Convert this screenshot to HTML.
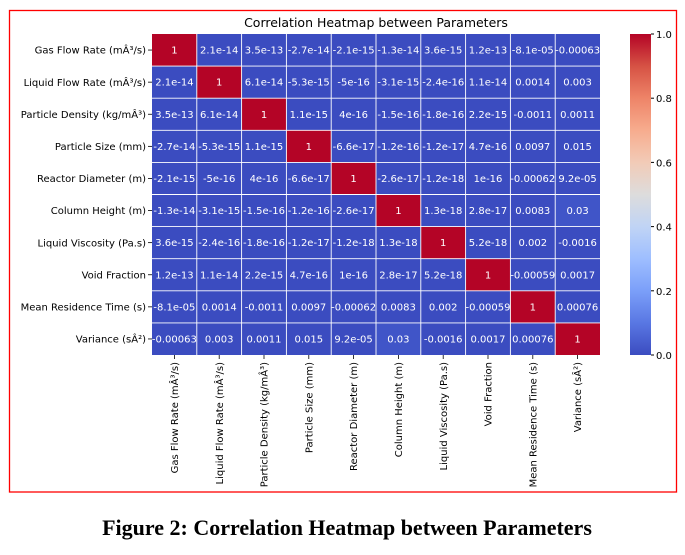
<!DOCTYPE html>
<html><head><meta charset="utf-8"><style>
body{margin:0;background:#fff;width:685px;height:555px;overflow:hidden}
svg{display:block}
</style></head><body>
<svg width="685" height="555" xmlns="http://www.w3.org/2000/svg" font-family="DejaVu Sans, Liberation Sans, sans-serif">
<defs>
<linearGradient id="cw" x1="0" y1="1" x2="0" y2="0">
<stop offset="0" stop-color="#3b4cc0"/><stop offset="0.1" stop-color="#5977e3"/><stop offset="0.2" stop-color="#7b9ff9"/><stop offset="0.3" stop-color="#9ebeff"/><stop offset="0.4" stop-color="#c0d4f5"/><stop offset="0.5" stop-color="#dddcdc"/><stop offset="0.6" stop-color="#f2cbb7"/><stop offset="0.7" stop-color="#f7ac8e"/><stop offset="0.8" stop-color="#ee8468"/><stop offset="0.9" stop-color="#d65244"/><stop offset="1" stop-color="#b40426"/>
</linearGradient>
</defs>
<rect x="9.5" y="10.5" width="667" height="481.5" fill="none" stroke="#ff0000" stroke-width="1.3"/>
<text x="376" y="27" font-size="12.5" text-anchor="middle" fill="#000">Correlation Heatmap between Parameters</text>

<rect x="152" y="34" width="448" height="321" fill="#3b4cc0"/>
<rect x="376" y="322.9" width="44.8" height="32.1" fill="#4055c8"/>
<rect x="555.2" y="194.5" width="44.8" height="32.1" fill="#4055c8"/>
<g fill="#b40426">
<rect x="152" y="34" width="44.8" height="32.1"/>
<rect x="196.8" y="66.1" width="44.8" height="32.1"/>
<rect x="241.6" y="98.2" width="44.8" height="32.1"/>
<rect x="286.4" y="130.3" width="44.8" height="32.1"/>
<rect x="331.2" y="162.4" width="44.8" height="32.1"/>
<rect x="376" y="194.5" width="44.8" height="32.1"/>
<rect x="420.8" y="226.6" width="44.8" height="32.1"/>
<rect x="465.6" y="258.7" width="44.8" height="32.1"/>
<rect x="510.4" y="290.8" width="44.8" height="32.1"/>
<rect x="555.2" y="322.9" width="44.8" height="32.1"/>
</g>
<g stroke="#fff" stroke-width="0.9">
<line x1="196.8" y1="34" x2="196.8" y2="355"/><line x1="241.6" y1="34" x2="241.6" y2="355"/><line x1="286.4" y1="34" x2="286.4" y2="355"/><line x1="331.2" y1="34" x2="331.2" y2="355"/><line x1="376" y1="34" x2="376" y2="355"/><line x1="420.8" y1="34" x2="420.8" y2="355"/><line x1="465.6" y1="34" x2="465.6" y2="355"/><line x1="510.4" y1="34" x2="510.4" y2="355"/><line x1="555.2" y1="34" x2="555.2" y2="355"/>
<line x1="152" y1="66.1" x2="600" y2="66.1"/><line x1="152" y1="98.2" x2="600" y2="98.2"/><line x1="152" y1="130.3" x2="600" y2="130.3"/><line x1="152" y1="162.4" x2="600" y2="162.4"/><line x1="152" y1="194.5" x2="600" y2="194.5"/><line x1="152" y1="226.6" x2="600" y2="226.6"/><line x1="152" y1="258.7" x2="600" y2="258.7"/><line x1="152" y1="290.8" x2="600" y2="290.8"/><line x1="152" y1="322.9" x2="600" y2="322.9"/>
</g>

<g font-size="10" fill="#fff" text-anchor="middle">
<g transform="translate(0,53.6)"><text x="174.4">1</text><text x="219.2">2.1e-14</text><text x="264">3.5e-13</text><text x="308.8">-2.7e-14</text><text x="353.6">-2.1e-15</text><text x="398.4">-1.3e-14</text><text x="443.2">3.6e-15</text><text x="488">1.2e-13</text><text x="532.8">-8.1e-05</text><text x="577.6">-0.00063</text></g>
<g transform="translate(0,85.7)"><text x="174.4">2.1e-14</text><text x="219.2">1</text><text x="264">6.1e-14</text><text x="308.8">-5.3e-15</text><text x="353.6">-5e-16</text><text x="398.4">-3.1e-15</text><text x="443.2">-2.4e-16</text><text x="488">1.1e-14</text><text x="532.8">0.0014</text><text x="577.6">0.003</text></g>
<g transform="translate(0,117.8)"><text x="174.4">3.5e-13</text><text x="219.2">6.1e-14</text><text x="264">1</text><text x="308.8">1.1e-15</text><text x="353.6">4e-16</text><text x="398.4">-1.5e-16</text><text x="443.2">-1.8e-16</text><text x="488">2.2e-15</text><text x="532.8">-0.0011</text><text x="577.6">0.0011</text></g>
<g transform="translate(0,149.9)"><text x="174.4">-2.7e-14</text><text x="219.2">-5.3e-15</text><text x="264">1.1e-15</text><text x="308.8">1</text><text x="353.6">-6.6e-17</text><text x="398.4">-1.2e-16</text><text x="443.2">-1.2e-17</text><text x="488">4.7e-16</text><text x="532.8">0.0097</text><text x="577.6">0.015</text></g>
<g transform="translate(0,182)"><text x="174.4">-2.1e-15</text><text x="219.2">-5e-16</text><text x="264">4e-16</text><text x="308.8">-6.6e-17</text><text x="353.6">1</text><text x="398.4">-2.6e-17</text><text x="443.2">-1.2e-18</text><text x="488">1e-16</text><text x="532.8">-0.00062</text><text x="577.6">9.2e-05</text></g>
<g transform="translate(0,214.1)"><text x="174.4">-1.3e-14</text><text x="219.2">-3.1e-15</text><text x="264">-1.5e-16</text><text x="308.8">-1.2e-16</text><text x="353.6">-2.6e-17</text><text x="398.4">1</text><text x="443.2">1.3e-18</text><text x="488">2.8e-17</text><text x="532.8">0.0083</text><text x="577.6">0.03</text></g>
<g transform="translate(0,246.2)"><text x="174.4">3.6e-15</text><text x="219.2">-2.4e-16</text><text x="264">-1.8e-16</text><text x="308.8">-1.2e-17</text><text x="353.6">-1.2e-18</text><text x="398.4">1.3e-18</text><text x="443.2">1</text><text x="488">5.2e-18</text><text x="532.8">0.002</text><text x="577.6">-0.0016</text></g>
<g transform="translate(0,278.3)"><text x="174.4">1.2e-13</text><text x="219.2">1.1e-14</text><text x="264">2.2e-15</text><text x="308.8">4.7e-16</text><text x="353.6">1e-16</text><text x="398.4">2.8e-17</text><text x="443.2">5.2e-18</text><text x="488">1</text><text x="532.8">-0.00059</text><text x="577.6">0.0017</text></g>
<g transform="translate(0,310.4)"><text x="174.4">-8.1e-05</text><text x="219.2">0.0014</text><text x="264">-0.0011</text><text x="308.8">0.0097</text><text x="353.6">-0.00062</text><text x="398.4">0.0083</text><text x="443.2">0.002</text><text x="488">-0.00059</text><text x="532.8">1</text><text x="577.6">0.00076</text></g>
<g transform="translate(0,342.5)"><text x="174.4">-0.00063</text><text x="219.2">0.003</text><text x="264">0.0011</text><text x="308.8">0.015</text><text x="353.6">9.2e-05</text><text x="398.4">0.03</text><text x="443.2">-0.0016</text><text x="488">0.0017</text><text x="532.8">0.00076</text><text x="577.6">1</text></g>
</g>

<g stroke="#000" stroke-width="0.8">
<line x1="148" y1="50.05" x2="152" y2="50.05"/><line x1="148" y1="82.15" x2="152" y2="82.15"/><line x1="148" y1="114.25" x2="152" y2="114.25"/><line x1="148" y1="146.35" x2="152" y2="146.35"/><line x1="148" y1="178.45" x2="152" y2="178.45"/><line x1="148" y1="210.55" x2="152" y2="210.55"/><line x1="148" y1="242.65" x2="152" y2="242.65"/><line x1="148" y1="274.75" x2="152" y2="274.75"/><line x1="148" y1="306.85" x2="152" y2="306.85"/><line x1="148" y1="338.95" x2="152" y2="338.95"/>
<line x1="174.4" y1="355" x2="174.4" y2="359"/><line x1="219.2" y1="355" x2="219.2" y2="359"/><line x1="264" y1="355" x2="264" y2="359"/><line x1="308.8" y1="355" x2="308.8" y2="359"/><line x1="353.6" y1="355" x2="353.6" y2="359"/><line x1="398.4" y1="355" x2="398.4" y2="359"/><line x1="443.2" y1="355" x2="443.2" y2="359"/><line x1="488" y1="355" x2="488" y2="359"/><line x1="532.8" y1="355" x2="532.8" y2="359"/><line x1="577.6" y1="355" x2="577.6" y2="359"/>
</g>
<g font-size="10" fill="#000" text-anchor="end">
<text x="146" y="53.65">Gas Flow Rate (mÂ³/s)</text>
<text x="146" y="85.75">Liquid Flow Rate (mÂ³/s)</text>
<text x="146" y="117.85">Particle Density (kg/mÂ³)</text>
<text x="146" y="149.95">Particle Size (mm)</text>
<text x="146" y="182.05">Reactor Diameter (m)</text>
<text x="146" y="214.15">Column Height (m)</text>
<text x="146" y="246.25">Liquid Viscosity (Pa.s)</text>
<text x="146" y="278.35">Void Fraction</text>
<text x="146" y="310.45">Mean Residence Time (s)</text>
<text x="146" y="342.55">Variance (sÂ²)</text>
<text transform="translate(178,362) rotate(-90)">Gas Flow Rate (mÂ³/s)</text>
<text transform="translate(222.8,362) rotate(-90)">Liquid Flow Rate (mÂ³/s)</text>
<text transform="translate(267.6,362) rotate(-90)">Particle Density (kg/mÂ³)</text>
<text transform="translate(312.4,362) rotate(-90)">Particle Size (mm)</text>
<text transform="translate(357.2,362) rotate(-90)">Reactor Diameter (m)</text>
<text transform="translate(402,362) rotate(-90)">Column Height (m)</text>
<text transform="translate(446.8,362) rotate(-90)">Liquid Viscosity (Pa.s)</text>
<text transform="translate(491.6,362) rotate(-90)">Void Fraction</text>
<text transform="translate(536.4,362) rotate(-90)">Mean Residence Time (s)</text>
<text transform="translate(581.2,362) rotate(-90)">Variance (sÂ²)</text>
</g>

<rect x="630" y="34" width="21" height="321" fill="url(#cw)"/>
<g font-size="10" fill="#000">
<line x1="651" y1="355" x2="654" y2="355" stroke="#000"/><text x="656" y="359">0.0</text>
<line x1="651" y1="290.8" x2="654" y2="290.8" stroke="#000"/><text x="656" y="294.8">0.2</text>
<line x1="651" y1="226.6" x2="654" y2="226.6" stroke="#000"/><text x="656" y="230.6">0.4</text>
<line x1="651" y1="162.4" x2="654" y2="162.4" stroke="#000"/><text x="656" y="166.4">0.6</text>
<line x1="651" y1="98.2" x2="654" y2="98.2" stroke="#000"/><text x="656" y="102.2">0.8</text>
<line x1="651" y1="34" x2="654" y2="34" stroke="#000"/><text x="656" y="38">1.0</text>
</g>
<text x="347" y="535" font-family="Liberation Serif, serif" font-weight="bold" font-size="22" text-anchor="middle" fill="#000">Figure 2: Correlation Heatmap between Parameters</text>
</svg>
</body></html>
